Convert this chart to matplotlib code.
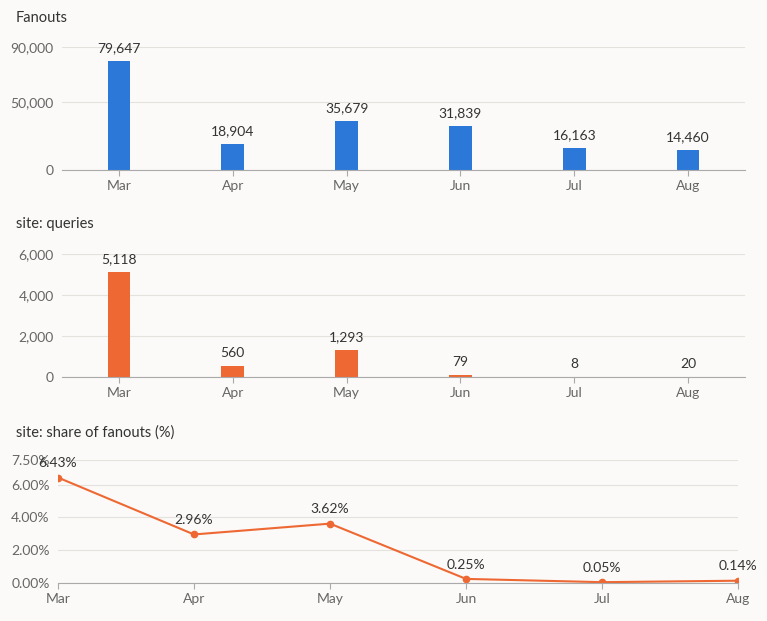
import matplotlib.pyplot as plt

months = ["Mar", "Apr", "May", "Jun", "Jul", "Aug"]
fanouts = [79647, 18904, 35679, 31839, 16163, 14460]
site_queries = [5118, 560, 1293, 79, 8, 20]
share_pct = [6.43, 2.96, 3.62, 0.25, 0.05, 0.14]

BG = "#fbfaf8"
BLUE = "#2b78d8"
ORANGE = "#ee6833"
GRID = "#e4e2dc"
TXT = "#333333"
TICK = "#666666"

plt.rcParams["font.family"] = ["Lato", "DejaVu Sans"]

W, H = 767, 621
fig = plt.figure(figsize=(W / 100, H / 100), dpi=100, facecolor=BG)


def px_axes(left, top, right, bottom):
    return fig.add_axes([left / W, 1 - bottom / H, (right - left) / W, (bottom - top) / H])


def style(ax, ticks, labels):
    ax.set_facecolor(BG)
    for s in ["top", "right", "left"]:
        ax.spines[s].set_visible(False)
    ax.spines["bottom"].set_color("#aaaaaa")
    ax.set_yticks(ticks)
    ax.set_yticklabels(labels)
    ax.tick_params(axis="y", length=0, labelsize=10, colors=TICK, pad=6)
    ax.tick_params(axis="x", length=4, color="#aaaaaa", labelsize=10, colors=TICK)
    ax.grid(axis="y", color=GRID, linewidth=0.8)
    ax.set_axisbelow(True)


def bar_panel(top, bottom, values, color, ymax, ticks, labels, title, title_y):
    ax = px_axes(62, top, 745, bottom)
    x = range(len(months))
    ax.bar(x, values, width=0.2, color=color)
    ax.set_xlim(-0.5, len(months) - 0.5)
    ax.set_ylim(0, ymax)
    ax.set_xticks(list(x))
    ax.set_xticklabels(months)
    style(ax, ticks, labels)
    for i, v in enumerate(values):
        ax.annotate(f"{v:,}", (i, v), xytext=(0, 5), textcoords="offset points",
                    ha="center", va="bottom", fontsize=10, color=TXT)
    fig.text(16 / W, 1 - title_y / H, title, fontsize=10.5, color=TXT, va="center")
    return ax


bar_panel(47, 170, fanouts, BLUE, 90000, [0, 50000, 90000], ["0", "50,000", "90,000"], "Fanouts", 18)
bar_panel(254, 377, site_queries, ORANGE, 6000, [0, 2000, 4000, 6000],
          ["0", "2,000", "4,000", "6,000"], "site: queries", 224)

ax3 = px_axes(58, 460, 738, 583)
ax3.plot(range(len(months)), share_pct, color=ORANGE, linewidth=1.5, marker="o", markersize=4.5)
ax3.set_xlim(0, len(months) - 1)
ax3.set_ylim(0, 7.5)
ax3.set_xticks(range(len(months)))
ax3.set_xticklabels(months)
style(ax3, [0, 2, 4, 6, 7.5], ["0.00%", "2.00%", "4.00%", "6.00%", "7.50%"])
for i, v in enumerate(share_pct):
    ax3.annotate(f"{v:.2f}%", (i, v), xytext=(0, 6), textcoords="offset points",
                 ha="center", va="bottom", fontsize=10, color=TXT, annotation_clip=False)
fig.text(16 / W, 1 - 433 / H, "site: share of fanouts (%)", fontsize=10.5, color=TXT, va="center")

fig.savefig("out.png", dpi=100, facecolor=BG)
